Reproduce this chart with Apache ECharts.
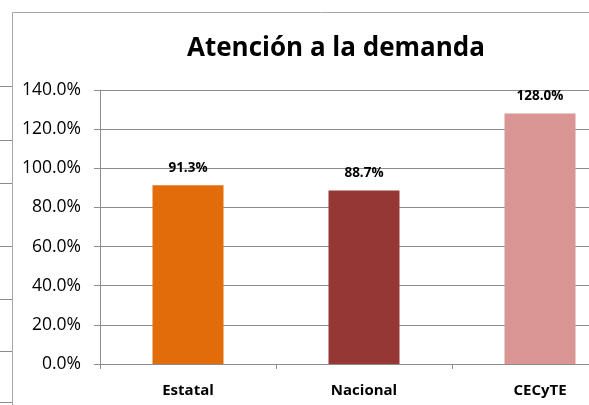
<!DOCTYPE html>
<html>
<head>
<meta charset="utf-8">
<script src="https://cdn.jsdelivr.net/npm/echarts@6/dist/echarts.min.js"></script>
<style>
html, body { margin: 0; padding: 0; background: #fff; overflow: hidden; }
/* la grafica original sigue a la derecha, se corta en el borde */
#chart { width: 628px; height: 405px; }
</style>
</head>
<body>
<div id="chart"></div>
<script>
var categories = ['Estatal', 'Nacional', 'CECyTE'];
var values = [91.3, 88.7, 128.0];
var barColors = ['#E36C0A', '#953735', '#D99694'];
var yTicks = [0, 20, 40, 60, 80, 100, 120, 140];

// restos de la otra grafica a la izquierda
var stubY = [86, 140, 183, 246, 299, 351, 402];

var chart = echarts.init(document.getElementById('chart'));

var graphics = [
    { type: 'line', shape: { x1: 12.5, y1: 12.5, x2: 628, y2: 12.5 }, style: { stroke: '#a6a6a6', lineWidth: 1 } },
    { type: 'line', shape: { x1: 12.5, y1: 12.5, x2: 12.5, y2: 405 }, style: { stroke: '#a6a6a6', lineWidth: 1 } }
];
for (var i = 0; i < stubY.length; i++) {
    graphics.push({ type: 'line', shape: { x1: 0, y1: stubY[i] + 0.5, x2: 12, y2: stubY[i] + 0.5 }, style: { stroke: '#8c8c8c', lineWidth: 1 } });
}

var barData = [];
for (var j = 0; j < values.length; j++) {
    barData.push({ value: values[j], itemStyle: { color: barColors[j] } });
}

var option = {
    animation: false,
    title: {
        text: 'Atención a la demanda',
        left: 331,
        textAlign: 'center',
        top: 31,
        textStyle: { fontFamily: 'Open Sans', fontWeight: 'bold', fontSize: 26, color: '#000' }
    },
    grid: {
        left: 100,
        right: 0,
        top: 90,
        bottom: 41
    },
    xAxis: {
        type: 'category',
        data: categories,
        axisLine: { lineStyle: { color: '#8c8c8c' } },
        axisTick: { show: true, length: 5, lineStyle: { color: '#8c8c8c' } },
        axisLabel: { margin: 19, fontFamily: 'Open Sans', fontWeight: 'bold', fontSize: 15, color: '#000' }
    },
    yAxis: {
        type: 'value',
        min: yTicks[0],
        max: yTicks[yTicks.length - 1],
        interval: 20,
        axisLine: { show: true, lineStyle: { color: '#8c8c8c' } },
        axisTick: { show: true, length: 6, lineStyle: { color: '#8c8c8c' } },
        splitLine: { lineStyle: { color: '#8c8c8c' } },
        axisLabel: {
            margin: 19,
            fontFamily: 'Open Sans',
            fontSize: 17.5,
            color: '#000',
            formatter: function(value) {
                return value.toFixed(1) + '%';
            }
        }
    },
    series: [{
        type: 'bar',
        barWidth: 71,
        data: barData,
        label: {
            show: true,
            position: 'top',
            distance: 10,
            fontFamily: 'Open Sans',
            fontWeight: 'bold',
            fontSize: 13.5,
            color: '#000',
            formatter: function(p) {
                return p.value.toFixed(1) + '%';
            }
        }
    }],
    graphic: graphics
};

chart.setOption(option);
</script>
</body>
</html>
